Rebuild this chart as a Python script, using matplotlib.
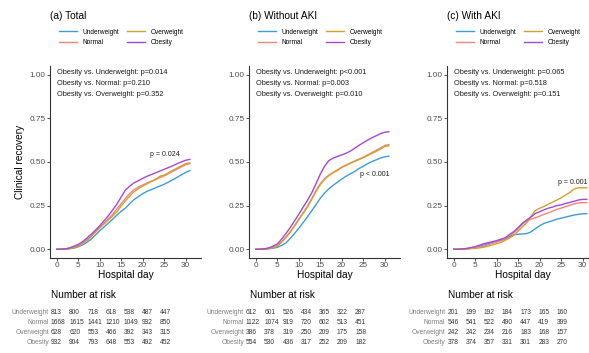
import numpy as np
import matplotlib
matplotlib.use("Agg")
import matplotlib.pyplot as plt

plt.rcParams['font.family'] = ['Liberation Sans', 'DejaVu Sans']

W, H = 589, 353

groups = ["Underweight", "Normal", "Overweight", "Obesity"]
colors = ["#3C9BDA", "#F2847C", "#CFA22E", "#A648D2"]

days = np.arange(0, 32)

# cumulative clinical recovery (days 0..31)
total_under = [0, 0, 0.001, 0.003, 0.007, 0.014, 0.025, 0.04, 0.058, 0.082, 0.106, 0.128, 0.15, 0.172, 0.196, 0.218,
               0.236, 0.262, 0.285, 0.302, 0.318, 0.332, 0.342, 0.352, 0.362, 0.372, 0.385, 0.398, 0.412, 0.426, 0.44, 0.451]
total_normal = [0, 0, 0.002, 0.006, 0.012, 0.022, 0.036, 0.055, 0.076, 0.1, 0.125, 0.15, 0.175, 0.2, 0.232, 0.262,
                0.292, 0.32, 0.342, 0.356, 0.368, 0.38, 0.39, 0.4, 0.41, 0.42, 0.433, 0.446, 0.459, 0.472, 0.484, 0.49]
total_over = [0, 0, 0.001, 0.004, 0.01, 0.018, 0.032, 0.05, 0.072, 0.098, 0.122, 0.145, 0.168, 0.19, 0.215, 0.248,
              0.278, 0.305, 0.33, 0.348, 0.362, 0.375, 0.388, 0.4, 0.418, 0.425, 0.438, 0.452, 0.465, 0.478, 0.49, 0.495]
total_obese = [0, 0, 0.003, 0.008, 0.018, 0.028, 0.044, 0.064, 0.086, 0.11, 0.135, 0.163, 0.192, 0.225, 0.26, 0.3,
               0.34, 0.362, 0.381, 0.393, 0.406, 0.418, 0.428, 0.438, 0.448, 0.458, 0.468, 0.478, 0.49, 0.5, 0.51, 0.515]

noaki_under = [0, 0, 0.001, 0.003, 0.006, 0.011, 0.022, 0.036, 0.062, 0.09, 0.12, 0.152, 0.185, 0.22, 0.255, 0.292,
               0.322, 0.346, 0.366, 0.384, 0.402, 0.418, 0.432, 0.445, 0.462, 0.475, 0.49, 0.502, 0.512, 0.522, 0.53, 0.533]
noaki_normal = [0, 0, 0.002, 0.005, 0.011, 0.02, 0.044, 0.07, 0.1, 0.135, 0.172, 0.208, 0.245, 0.288, 0.335, 0.375,
                0.404, 0.425, 0.44, 0.455, 0.47, 0.482, 0.494, 0.505, 0.516, 0.527, 0.54, 0.553, 0.566, 0.58, 0.594, 0.6]
noaki_over = [0, 0, 0.001, 0.004, 0.009, 0.017, 0.04, 0.066, 0.098, 0.133, 0.17, 0.205, 0.242, 0.285, 0.33, 0.37,
              0.4, 0.422, 0.438, 0.452, 0.468, 0.48, 0.492, 0.503, 0.513, 0.524, 0.536, 0.548, 0.56, 0.574, 0.588, 0.593]
noaki_obese = [0, 0, 0.003, 0.008, 0.018, 0.03, 0.058, 0.09, 0.124, 0.162, 0.2, 0.24, 0.28, 0.322, 0.375, 0.43,
               0.475, 0.508, 0.522, 0.532, 0.54, 0.55, 0.562, 0.578, 0.595, 0.61, 0.625, 0.638, 0.65, 0.662, 0.67, 0.674]

aki_under = [0, 0, 0.001, 0.003, 0.006, 0.01, 0.016, 0.024, 0.032, 0.038, 0.044, 0.05, 0.06, 0.072, 0.084, 0.086,
             0.088, 0.09, 0.1, 0.118, 0.135, 0.148, 0.156, 0.164, 0.172, 0.178, 0.184, 0.19, 0.196, 0.2, 0.203, 0.204]
aki_normal = [0, 0, 0.001, 0.003, 0.005, 0.008, 0.012, 0.018, 0.026, 0.034, 0.042, 0.05, 0.062, 0.078, 0.095, 0.118,
              0.145, 0.162, 0.172, 0.18, 0.19, 0.2, 0.208, 0.218, 0.228, 0.236, 0.244, 0.252, 0.26, 0.265, 0.267, 0.267]
aki_over = [0, 0, 0, 0.002, 0.004, 0.006, 0.008, 0.012, 0.018, 0.025, 0.032, 0.04, 0.052, 0.065, 0.08, 0.105,
            0.13, 0.152, 0.19, 0.222, 0.235, 0.245, 0.258, 0.27, 0.282, 0.295, 0.31, 0.325, 0.345, 0.352, 0.352, 0.352]
aki_obese = [0, 0, 0.002, 0.005, 0.01, 0.015, 0.024, 0.032, 0.038, 0.044, 0.05, 0.058, 0.066, 0.085, 0.102, 0.125,
             0.15, 0.168, 0.185, 0.205, 0.215, 0.226, 0.235, 0.242, 0.25, 0.255, 0.262, 0.268, 0.275, 0.282, 0.286, 0.286]

risk_days = [0, 5, 10, 15, 20, 25, 30]
risk_total = [[813, 800, 718, 618, 538, 487, 447],
              [1668, 1615, 1441, 1210, 1049, 932, 850],
              [628, 620, 553, 466, 392, 343, 315],
              [932, 904, 793, 648, 553, 492, 452]]
risk_noaki = [[612, 601, 526, 434, 365, 322, 287],
              [1122, 1074, 919, 720, 602, 513, 451],
              [386, 378, 319, 250, 209, 175, 158],
              [554, 530, 436, 317, 252, 209, 182]]
risk_aki = [[201, 199, 192, 184, 173, 165, 160],
            [546, 541, 522, 490, 447, 419, 399],
            [242, 242, 234, 216, 183, 168, 157],
            [378, 374, 357, 331, 301, 283, 270]]

titles = ["(a) Total", "(b) Without AKI", "(c) With AKI"]
pair_texts = [["Obesity vs. Underweight: p=0.014", "Obesity vs. Normal: p=0.210", "Obesity vs. Overweight: p=0.352"],
              ["Obesity vs. Underweight: p<0.001", "Obesity vs. Normal: p=0.003", "Obesity vs. Overweight: p=0.010"],
              ["Obesity vs. Underweight: p=0.065", "Obesity vs. Normal: p=0.518", "Obesity vs. Overweight: p=0.151"]]
overall_p = ["p = 0.024", "p < 0.001", "p = 0.001"]
overall_pos = [(25.2, 0.543), (27.6, 0.43), (27.6, 0.383)]

curves = [[total_under, total_normal, total_over, total_obese],
          [noaki_under, noaki_normal, noaki_over, noaki_obese],
          [aki_under, aki_normal, aki_over, aki_obese]]
risks = [risk_total, risk_noaki, risk_aki]

# pixel layout helpers
ax_left = [50, 249, 447]
tab_left = [45.2, 240.2, 441.5]
xlo, xhi = -1.6, 33.6

fig = plt.figure(figsize=(W / 100, H / 100), dpi=100)

for k in range(3):
    ax = fig.add_axes([ax_left[k] / W, (H - 258) / H, 151 / W, 192 / H])
    for vals, col, name in zip(curves[k], colors, groups):
        ax.plot(days, vals, color=col, lw=1.0, label=name)
    ax.set_xlim(xlo, xhi)
    ax.set_ylim(-0.05, 1.05)
    ax.set_xticks([0, 5, 10, 15, 20, 25, 30])
    ax.set_yticks([0, 0.25, 0.5, 0.75, 1.0])
    ax.set_yticklabels(["0.00", "0.25", "0.50", "0.75", "1.00"])
    for s in ['top', 'right']:
        ax.spines[s].set_visible(False)
    for s in ['left', 'bottom']:
        ax.spines[s].set_color('#333333')
        ax.spines[s].set_linewidth(0.8)
    ax.tick_params(length=2, width=0.6, color='#333333', labelsize=5.9, labelcolor='#4d4d4d', pad=1)
    ax.set_xlabel("Hospital day", fontsize=7.3, labelpad=0.5)

    for i, t in enumerate(pair_texts[k]):
        ax.text(0, 1.011 - i * 0.063, t, fontsize=5.3, ha='left', va='center', color='#1a1a1a')
    ax.text(overall_pos[k][0], overall_pos[k][1], overall_p[k], fontsize=5.0, ha='center', va='center',
            color='#1a1a1a')

    fig.text(ax_left[k] / W, 1 - 16 / H, titles[k], fontsize=7.3, ha='left', va='center')
    ax.legend(loc='center left', bbox_to_anchor=((ax_left[k] + 9) / W, 1 - 37.5 / H),
              bbox_transform=fig.transFigure, ncol=2, frameon=False, fontsize=4.7,
              handlelength=2.8, handletextpad=0.8, columnspacing=1.2, labelspacing=0.55,
              borderpad=0, borderaxespad=0)

    # number at risk table
    fig.text(ax_left[k] / W + 0.001, 1 - 295 / H, "Number at risk", fontsize=7.2, ha='left', va='center')
    tab = fig.add_axes([tab_left[k] / W, 5 / H, 128 / W, 40 / H])
    tab.set_xlim(xlo, xhi)
    tab.set_ylim(3.5, -0.5)
    tab.axis('off')
    for r, name in enumerate(groups):
        tab.text(-0.55, r, name, fontsize=4.8, ha='right', va='center', color='#7f7f7f')
        for d, n in zip(risk_days, risks[k][r]):
            tab.text(d, r, str(n), fontsize=4.8, ha='left', va='center', color='#333333')

fig.text(20 / W, 1 - 162 / H, "Clinical recovery", rotation=90, fontsize=7.3, ha='center', va='center')

fig.savefig("out.png", dpi=100)
